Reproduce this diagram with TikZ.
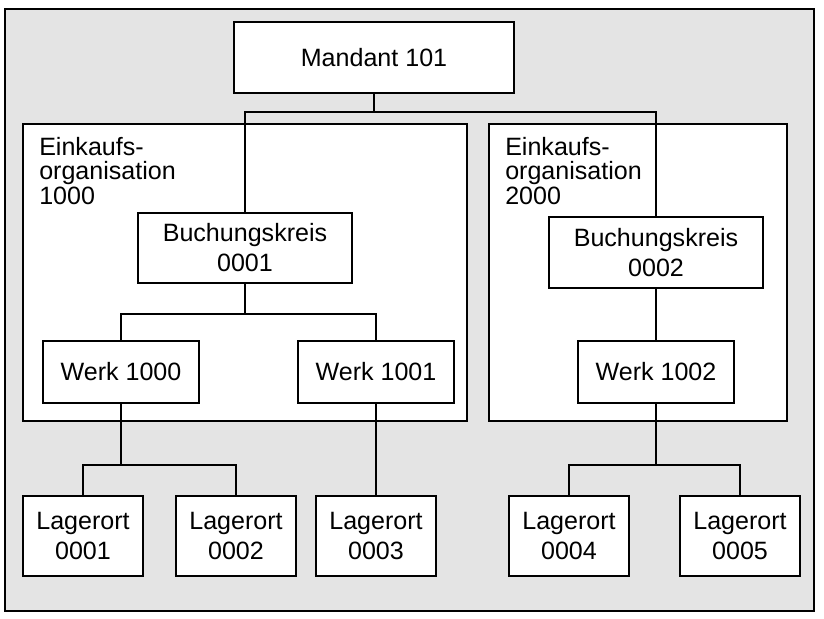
\documentclass[tikz,border=0pt]{standalone}
\usepackage{fontspec}
\setmainfont{Liberation Sans}
\definecolor{bggray}{HTML}{E4E4E4}
\tikzset{
  box/.style={draw=black, fill=white, line width=0.9pt, inner sep=0pt, align=center,
              font=\fontsize{18.8}{22.5}\selectfont},
  orgbox/.style={draw=black, fill=white, line width=0.9pt, inner sep=0pt},
  orglabel/.style={inner sep=0pt, anchor=north west, align=left,
              font=\fontsize{18.8}{18.4}\selectfont},
  conn/.style={draw=black, line width=0.9pt},
  thickconn/.style={draw=black, line width=1.5pt},
}
\begin{document}
\begin{tikzpicture}[x=0.75pt, y=-0.75pt]
\useasboundingbox (0,0) rectangle (824,618);
% background frame
\node[draw=black, fill=bggray, line width=0.9pt, inner sep=0pt,
      minimum width=809*0.75pt, minimum height=602*0.75pt] (frame) at (409.5,310) {};
% organisation boxes
\node[orgbox, minimum width=444*0.75pt, minimum height=297*0.75pt] (eo1) at (245,272.5) {};
\node[orgbox, minimum width=298*0.75pt, minimum height=297*0.75pt] (eo2) at (638,272.5) {};
\node[orglabel] (eo1t) at (39,137) {Einkaufs-\\organisation\\1000};
\node[orglabel] (eo2t) at (505,137) {Einkaufs-\\organisation\\2000};
% nodes
\node[box, minimum width=280*0.75pt, minimum height=71*0.75pt] (mandant) at (374,57.5) {Mandant 101};
\node[box, minimum width=214*0.75pt, minimum height=70*0.75pt] (bk1) at (245,248) {Buchungskreis\\0001};
\node[box, minimum width=214*0.75pt, minimum height=71*0.75pt] (bk2) at (656,252.5) {Buchungskreis\\0002};
\node[box, minimum width=156*0.75pt, minimum height=62*0.75pt] (w1000) at (121,372) {Werk 1000};
\node[box, minimum width=156*0.75pt, minimum height=62*0.75pt] (w1001) at (376,372) {Werk 1001};
\node[box, minimum width=156*0.75pt, minimum height=62*0.75pt] (w1002) at (656,372) {Werk 1002};
\node[box, minimum width=120*0.75pt, minimum height=80*0.75pt] (l1) at (83,536) {Lagerort\\0001};
\node[box, minimum width=120*0.75pt, minimum height=80*0.75pt] (l2) at (236,536) {Lagerort\\0002};
\node[box, minimum width=120*0.75pt, minimum height=80*0.75pt] (l3) at (376,536) {Lagerort\\0003};
\node[box, minimum width=120*0.75pt, minimum height=80*0.75pt] (l4) at (569,536) {Lagerort\\0004};
\node[box, minimum width=120*0.75pt, minimum height=80*0.75pt] (l5) at (740,536) {Lagerort\\0005};
% junction coordinates
\coordinate (jm) at (374,112);
\coordinate (jb) at (245,314);
\coordinate (jw1) at (121,465);
\coordinate (jw2) at (656,465);
% connectors
\draw[conn] (mandant.south) -- (jm);
\draw[conn] (jm) -| (bk1.north);
\draw[conn] (jm) -| (bk2.north);
\draw[conn] (bk1.south) -- (jb);
\draw[conn] (jb) -| (w1000.north);
\draw[conn] (jb) -| (w1001.north);
\draw[conn] (bk2.south) -- (w1002.north);
\draw[thickconn] (w1000.south) -- (jw1);
\draw[conn] (jw1) -| (l1.north);
\draw[conn] (jw1) -| (l2.north);
\draw[conn] (w1001.south) -- (l3.north);
\draw[thickconn] (w1002.south) -- (jw2);
\draw[conn] (jw2) -| (l4.north);
\draw[conn] (jw2) -| (l5.north);
\end{tikzpicture}
\end{document}
